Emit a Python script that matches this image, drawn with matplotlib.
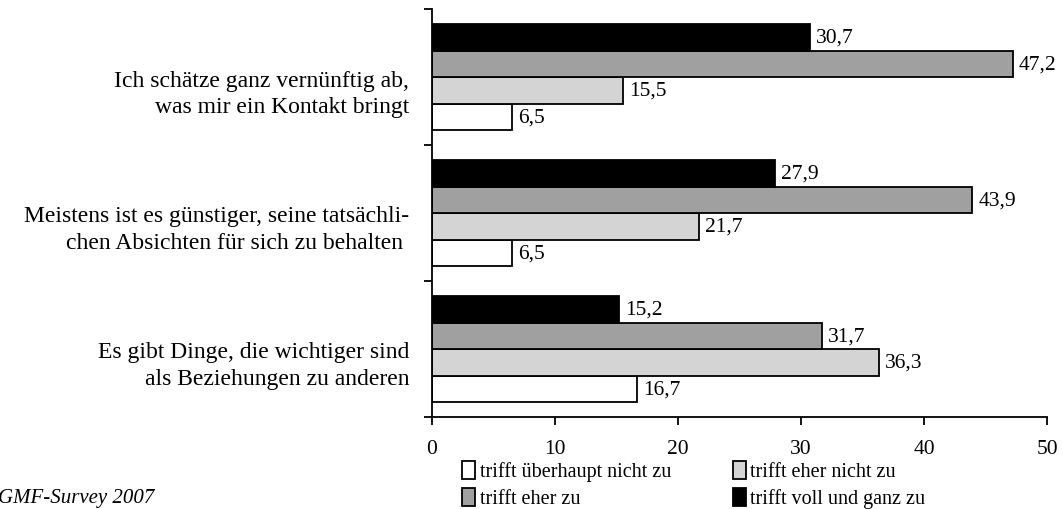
import numpy as np
import matplotlib
matplotlib.use('Agg')
import matplotlib.pyplot as plt
from matplotlib.patches import Patch

plt.rcParams['font.family'] = ['Liberation Serif', 'DejaVu Serif']

items = [
    'Ich schätze ganz vernünftig ab,\nwas mir ein Kontakt bringt',
    'Meistens ist es günstiger, seine tatsächli-\nchen Absichten für sich zu behalten ',
    'Es gibt Dinge, die wichtiger sind\nals Beziehungen zu anderen',
]
series_names = ['trifft überhaupt nicht zu', 'trifft eher nicht zu',
                'trifft eher zu', 'trifft voll und ganz zu']
series_colors = ['#ffffff', '#d4d4d4', '#a0a0a0', '#000000']

ueberhaupt_nicht = [6.5, 6.5, 16.7]
eher_nicht = [15.5, 21.7, 36.3]
eher_zu = [47.2, 43.9, 31.7]
voll_und_ganz = [30.7, 27.9, 15.2]

values = [ueberhaupt_nicht, eher_nicht, eher_zu, voll_und_ganz]

fig = plt.figure(figsize=(10.63, 5.10), dpi=100)
ax = fig.add_axes([0.4064, 0.1804, 0.5786, 0.7996])

y = np.arange(len(items))
h = 0.195
# offsets: white at bottom of each group, black on top (axis inverted)
offsets = [1.5 * h, 0.5 * h, -0.5 * h, -1.5 * h]

for vals, col, off in zip(values, series_colors, offsets):
    bars = ax.barh(y + off, vals, height=h, color=col, edgecolor='black', linewidth=1.3)
    for b, v in zip(bars, vals):
        ax.text(b.get_width() + 0.5, b.get_y() + b.get_height() / 2,
                f'{v:.1f}'.replace('.', ','), va='center', ha='left', fontsize=15.5)

ax.set_xlim(0, 50)
ax.set_ylim(2.5, -0.5)
ax.set_xticks(np.arange(0, 51, 10))
ax.tick_params(axis='x', direction='out', length=6, width=1.3, labelsize=15.5, pad=10)

ax.set_yticks([-0.5, 0.5, 1.5, 2.5])
ax.set_yticklabels([])
ax.tick_params(axis='y', which='major', direction='out', length=6, width=1.3)
ax.set_yticks(y + 0.08, minor=True)
ax.set_yticklabels(items, minor=True, fontsize=17, ha='right', ma='right', linespacing=1.35)
ax.tick_params(axis='y', which='minor', length=0, pad=16.5)

for s in ['top', 'right']:
    ax.spines[s].set_visible(False)
for s in ['left', 'bottom']:
    ax.spines[s].set_linewidth(1.3)

handles = [Patch(facecolor=series_colors[0], edgecolor='black', linewidth=1.3, label=series_names[0]),
           Patch(facecolor=series_colors[2], edgecolor='black', linewidth=1.3, label=series_names[2]),
           Patch(facecolor=series_colors[1], edgecolor='black', linewidth=1.3, label=series_names[1]),
           Patch(facecolor=series_colors[3], edgecolor='black', linewidth=1.3, label=series_names[3])]
fig.legend(handles=handles, ncol=2, loc='upper left', bbox_to_anchor=(0.435, 0.095),
           frameon=False, fontsize=14.5, handlelength=0.65, handleheight=1.0,
           handletextpad=0.2, columnspacing=3.1, labelspacing=0.3, borderaxespad=0,
           borderpad=0)

fig.text(-0.002, 0.022, 'GMF-Survey 2007', fontsize=15, style='italic', ha='left', va='center')

fig.savefig('out.png', dpi=100)
